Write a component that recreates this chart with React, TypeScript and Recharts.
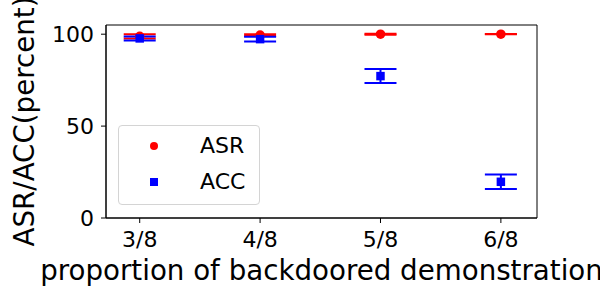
import {
  ComposedChart,
  Scatter,
  ErrorBar,
  XAxis,
  YAxis,
  ZAxis,
  ReferenceArea,
  Label,
} from "recharts";

const categories = ["3/8", "4/8", "5/8", "6/8"];
const positions = [3, 4, 5, 6];
const asrMean = [98.8, 99.5, 100, 100];
const asrErr = [1.1, 0.5, 0.3, 0.1];
const accMean = [97.7, 97.3, 77.2, 19.7];
const accErr = [1.1, 1.3, 3.8, 3.9];
const yTicks = [0, 50, 100];

const FONT = "'DejaVu Sans', sans-serif";
const TICK_SIZE = 22;
const LABEL_SIZE = 27.7;

const asrData = positions.map((x, i) => ({ x, y: asrMean[i], err: asrErr[i] }));
const accData = positions.map((x, i) => ({ x, y: accMean[i], err: accErr[i] }));

const SERIES = [
  { name: "ASR", color: "#ff0000", shape: "circle" as const, data: asrData },
  { name: "ACC", color: "#0000ff", shape: "square" as const, data: accData },
];

// legend box drawn over the plot, like matplotlib's "best" location
function LegendBox() {
  return (
    <div
      style={{
        position: "absolute",
        left: 118,
        top: 125,
        width: 140,
        height: 78,
        border: "1px solid #d4d4d4",
        borderRadius: 4,
        background: "rgba(255,255,255,0.8)",
        fontFamily: FONT,
        fontSize: TICK_SIZE,
        color: "#000",
      }}
    >
      {SERIES.map((s, i) => (
        <div key={s.name}>
          <div
            style={{
              position: "absolute",
              left: 31,
              top: 16 + i * 36,
              width: 8,
              height: 8,
              background: s.color,
              borderRadius: s.shape === "circle" ? "50%" : 0,
            }}
          />
          <div
            style={{
              position: "absolute",
              left: 81,
              top: 5 + i * 36,
              lineHeight: "30px",
            }}
          >
            {s.name}
          </div>
        </div>
      ))}
    </div>
  );
}

export default function App() {
  return (
    <div style={{ position: "absolute", left: 0, top: 0, width: 600, height: 300, background: "#fff" }}>
      <ComposedChart
        width={600}
        height={300}
        margin={{ top: 25, right: 63, bottom: 0, left: 0 }}
      >
        <XAxis
          dataKey="x"
          type="number"
          domain={[2.72, 6.3]}
          allowDataOverflow
          ticks={positions}
          tickFormatter={(v) => categories[positions.indexOf(v)] ?? ""}
          height={82}
          stroke="#000"
          tickSize={5}
          tickMargin={8}
          tick={{ fill: "#000", fontSize: TICK_SIZE, fontFamily: FONT }}
        >
          <Label
            value="proportion of backdoored demonstration"
            position="insideBottom"
            offset={20}
            style={{ fontSize: LABEL_SIZE, fontFamily: FONT, fill: "#000" }}
          />
        </XAxis>
        <YAxis
          type="number"
          domain={[0, 105]}
          allowDataOverflow
          ticks={yTicks}
          width={106}
          stroke="#000"
          tickSize={5}
          tickMargin={7}
          tick={{ fill: "#000", fontSize: TICK_SIZE, fontFamily: FONT }}
        >
          <Label
            content={(props: any) => {
              const vb = props.viewBox || {};
              const cx = (vb.x ?? 0) + 34;
              const cy = (vb.y ?? 25) + (vb.height ?? 193) / 2;
              return (
                <text
                  x={cx}
                  y={cy}
                  transform={`rotate(-90 ${cx} ${cy})`}
                  textAnchor="middle"
                  style={{ fontSize: LABEL_SIZE, fontFamily: FONT, fill: "#000" }}
                >
                  ASR/ACC(percent)
                </text>
              );
            }}
          />
        </YAxis>
        <ZAxis range={[72, 72]} />
        <ReferenceArea
          x1={2.72}
          x2={6.3}
          y1={0}
          y2={105}
          fill="none"
          stroke="#000"
          strokeWidth={1}
          ifOverflow="visible"
        />
        {SERIES.map((s) => (
          <Scatter
            key={s.name}
            name={s.name}
            data={s.data}
            dataKey="y"
            fill={s.color}
            shape={s.shape}
            isAnimationActive={false}
          >
            <ErrorBar
              dataKey="err"
              direction="y"
              width={16}
              stroke={s.color}
              strokeWidth={2}
              isAnimationActive={false}
            />
          </Scatter>
        ))}
      </ComposedChart>
      <LegendBox />
    </div>
  );
}
